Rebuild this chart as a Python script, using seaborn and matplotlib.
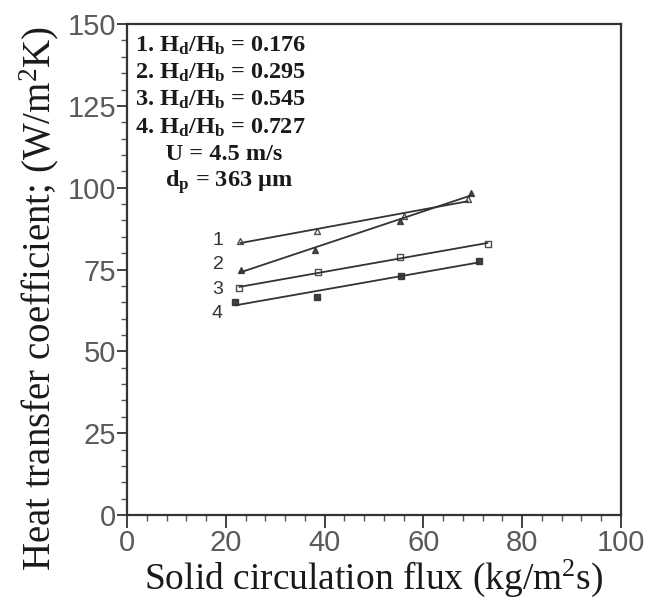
import numpy as np
import pandas as pd
import matplotlib
matplotlib.use("Agg")
import matplotlib.pyplot as plt
from matplotlib.ticker import MultipleLocator
import seaborn as sns

# ---- data ----
flux_1 = [22.9, 38.4, 56.0, 69.0]
htc_1 = [83.7, 86.8, 91.5, 96.6]
flux_2 = [23.0, 38.1, 55.3, 69.6]
htc_2 = [74.9, 81.0, 89.8, 98.3]
flux_3 = [22.7, 38.7, 55.3, 73.0]
htc_3 = [69.3, 74.3, 78.9, 82.7]
flux_4 = [21.9, 38.4, 55.4, 71.3]
htc_4 = [65.2, 66.7, 73.1, 77.7]
series_ids = ["1", "2", "3", "4"]
label_pos_x = [18.4, 18.4, 18.4, 18.2]
label_pos_y = [84.0, 76.4, 69.0, 61.7]
info_lines = [
    r"1. H$_\mathbf{d}$/H$_\mathbf{b}$ = 0.176",
    r"2. H$_\mathbf{d}$/H$_\mathbf{b}$ = 0.295",
    r"3. H$_\mathbf{d}$/H$_\mathbf{b}$ = 0.545",
    r"4. H$_\mathbf{d}$/H$_\mathbf{b}$ = 0.727",
    r"     U = 4.5 m/s",
    "     d$_\\mathbf{p}$ = 363 \u03bcm",
]
x_ticks = [0, 20, 40, 60, 80, 100]
y_ticks = [0, 25, 50, 75, 100, 125, 150]

sns.set_theme(style="white")
plt.rcParams["mathtext.fontset"] = "custom"
plt.rcParams["mathtext.rm"] = "Liberation Serif"
plt.rcParams["mathtext.bf"] = "Liberation Serif:bold"
plt.rcParams["mathtext.it"] = "Liberation Serif:italic"

fig = plt.figure(figsize=(6.46, 6.01), dpi=100)
ax = fig.add_axes([0.197, 0.143, 0.764, 0.817])

dfs = [
    pd.DataFrame({"flux": flux_1, "htc": htc_1}),
    pd.DataFrame({"flux": flux_2, "htc": htc_2}),
    pd.DataFrame({"flux": flux_3, "htc": htc_3}),
    pd.DataFrame({"flux": flux_4, "htc": htc_4}),
]
markers = ["^", "^", "s", "s"]
faces = ["white", "#222222", "white", "#111111"]
for df, m, fc in zip(dfs, markers, faces):
    sns.regplot(data=df, x="flux", y="htc", ax=ax, ci=None, truncate=True,
                marker=m, color="#222222",
                scatter_kws=dict(s=18, facecolors=fc, edgecolors="#222222", linewidths=1.0),
                line_kws=dict(lw=1.3, color="#333333"))

for sid, lx, ly in zip(series_ids, label_pos_x, label_pos_y):
    ax.text(lx, ly, sid, fontsize=14, color="#333333", ha="center", va="center",
            family="Liberation Sans")

for i, line in enumerate(info_lines):
    ax.text(0.016, 0.956 - i * 0.0555, line, transform=ax.transAxes,
            fontsize=17.5, fontweight="bold", family="Liberation Serif",
            color="#1a1a1a", ha="left", va="center")

ax.set_xlim(0, 100)
ax.set_ylim(0, 150)
ax.set_xticks(x_ticks)
ax.set_yticks(y_ticks)
ax.xaxis.set_minor_locator(MultipleLocator(4))
ax.yaxis.set_minor_locator(MultipleLocator(5))
ax.tick_params(axis="both", which="major", direction="out", width=1.3,
               color="#333333", labelsize=21, labelcolor="#5a5a5a", pad=1,
               bottom=True, left=True)
ax.tick_params(axis="x", which="major", length=9)
ax.tick_params(axis="y", which="major", length=7)
ax.tick_params(axis="both", which="minor", direction="out", length=4, width=1.0,
               color="#555555", bottom=True, left=True)
for lab in ax.get_xticklabels() + ax.get_yticklabels():
    lab.set_family("Liberation Sans")

for s in ax.spines.values():
    s.set_visible(True)
    s.set_color("#333333")
    s.set_linewidth(1.6)

ax.set_xlabel("Solid circulation flux (kg/m$^2$s)", fontsize=27,
              family="Liberation Serif", color="#1a1a1a")
ax.set_ylabel("Heat transfer coefficient; (W/m$^2$K)", fontsize=28,
              family="Liberation Serif", color="#1a1a1a")
ax.xaxis.set_label_coords(0.5, -0.087)
ax.yaxis.set_label_coords(-0.135, 0.442)
ax.grid(False)

fig.savefig("out.png", dpi=100)
